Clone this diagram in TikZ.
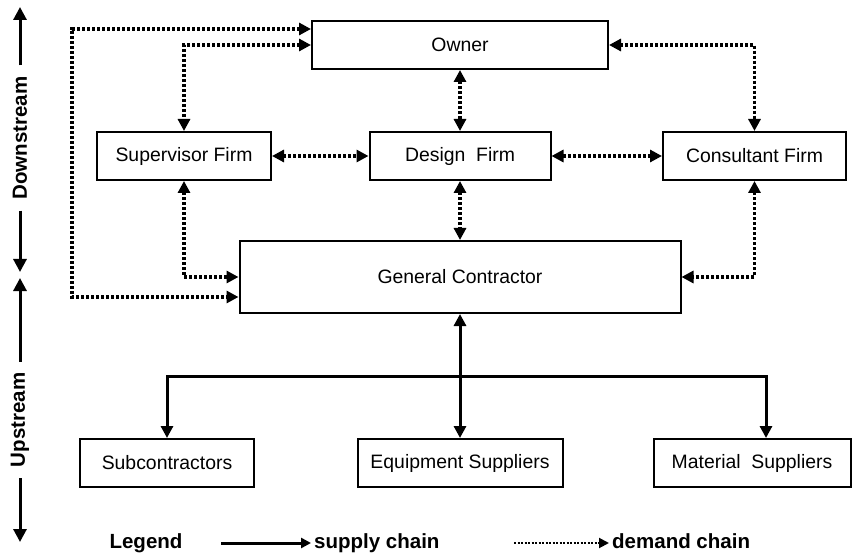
\documentclass[tikz,border=0pt]{standalone}
\usepackage{fontspec}
\setmainfont{Liberation Sans}
\usetikzlibrary{arrows.meta}

\tikzset{
  box/.style={draw, line width=2pt, minimum height=48pt, inner sep=0pt,
    font=\fontsize{19.4}{23}\selectfont},
  dem/.style={line width=3.2pt, dash pattern=on 3pt off 2pt, line join=miter,
    {Triangle[length=12pt,width=12pt]}-{Triangle[length=12pt,width=12pt]}},
  supl/.style={line width=3pt, line join=miter,
    {Triangle[length=12pt,width=12pt]}-{Triangle[length=12pt,width=12pt]}},
  sidearrow/.style={line width=3pt, -{Triangle[length=13pt,width=13pt]}},
  sidelabel/.style={rotate=90, inner xsep=11pt, inner ysep=0pt,
    font=\fontsize{20.5}{24}\selectfont\bfseries},
  legendtext/.style={inner sep=3pt, font=\fontsize{20.5}{24}\selectfont\bfseries},
}

\begin{document}
\begin{tikzpicture}[x=1pt, y=-1pt]
\useasboundingbox (0,0) rectangle (857,556);

% organisations
\node[box, minimum width=296pt] (owner)  at (460,45)    {Owner};
\node[box, minimum width=181pt] (design) at (460,156)   {Design\ \ Firm};
\node[box, minimum width=174pt] (sup)    at (184,156)   {Supervisor Firm};
\node[box, minimum width=183pt] (cons)   at (754.5,156) {Consultant Firm};
\node[box, minimum width=441pt, minimum height=72pt] (gc) at (460,277) {General Contractor};
\node[box, minimum width=174pt] (sub)    at (167,463)   {Subcontractors};
\node[box, minimum width=205pt] (equip)  at (460,463)   {Equipment Suppliers};
\node[box, minimum width=197pt] (mat)    at (752,463)   {Material\ \ Suppliers};

% demand chain (dotted)
\coordinate (ol) at (72,29);
\coordinate (gl) at (72,297);
\draw[dem] ([yshift=16pt]owner.west) -- (ol) -- (gl) -- ([yshift=-20pt]gc.west);
\draw[dem] (owner.west) -| (sup.north);
\draw[dem] (sup.south) |- (gc.west);
\draw[dem] (owner.east) -| (cons.north);
\draw[dem] (cons.south) |- (gc.east);
\draw[dem] (owner.south) -- (design.north);
\draw[dem] (sup.east) -- (design.west);
\draw[dem] (design.east) -- (cons.west);
\draw[dem] (design.south) -- (gc.north);

% supply chain (solid)
\coordinate (busR) at (766,376);
\draw[supl] (sub.north) |- (busR) -- (busR |- mat.north);
\draw[supl] (gc.south) -- (equip.north);

% stream direction labels
\node[sidelabel] (down) at (20,138) {Downstream};
\node[sidelabel] (up)   at (20,420) {Upstream};
\coordinate (dtop) at (20,7);
\coordinate (dbot) at (20,272);
\coordinate (utop) at (20,278);
\coordinate (ubot) at (20,542);
\draw[sidearrow] (down.east) -- (dtop);
\draw[sidearrow] (down.west) -- (dbot);
\draw[sidearrow] (up.east) -- (utop);
\draw[sidearrow] (up.west) -- (ubot);

% legend
\node[legendtext, anchor=base] (leg) at (146,548) {Legend};
\node[legendtext, anchor=base west] (sc) at (311,548) {supply chain};
\node[legendtext, anchor=base west] (dc) at (609,548) {demand chain};
\coordinate (s1) at (221,543);
\coordinate (d1) at (514,543);
\draw[line width=3pt, -{Triangle[length=10pt,width=10pt]}] (s1) -- (s1 -| sc.west);
\draw[line width=2pt, dash pattern=on 2pt off 1.5pt, -{Triangle[length=10pt,width=10pt]}] (d1) -- (d1 -| dc.west);
\end{tikzpicture}
\end{document}
